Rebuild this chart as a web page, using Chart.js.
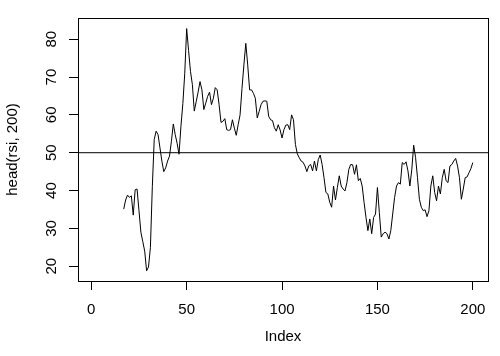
<!DOCTYPE html>
<html>
<head>
<meta charset="utf-8">
<script src="https://cdn.jsdelivr.net/npm/chart.js@4/dist/chart.umd.min.js"></script>
<style>
  html, body { margin: 0; padding: 0; background: #fff; }
  #wrap { width: 500px; height: 356px; position: relative; }
</style>
</head>
<body>
<div id="wrap"><canvas id="c" width="500" height="356"></canvas></div>
<script>
// ---- data ----
const firstIndex = 17;
const rsiValues = [
  35.1, 37.5, 38.8, 38.2, 38.6, 33.5, 40.2, 40.4, 34.7, 29,
  26.5, 24, 18.8, 19.8, 25, 41, 53.5, 55.7, 54.8, 51.3,
  47.8, 45, 46, 47.8, 49.1, 53, 57.6, 54.8, 52.5, 49.6,
  57, 63, 71, 82.8, 77, 71.5, 68, 61, 63.5, 66,
  68.8, 66.6, 61.4, 63.1, 64.9, 66, 62.7, 64.4, 67.2, 66.6,
  62.7, 58, 58.3, 59, 56.1, 55.9, 56.1, 58.7, 56.5, 54.6,
  57.4, 60, 67, 73.2, 78.9, 73.2, 66.6, 66.6, 65.7, 64.4,
  59.2, 60.9, 62.7, 63.6, 63.7, 63.6, 59.6, 58.7, 58.5, 56.6,
  55.7, 57.4, 56, 53.9, 56.1, 57.3, 57.4, 56.1, 60, 58.7,
  52.2, 49.7, 48.7, 47.8, 47.5, 46.5, 45, 46.5, 46.9, 45.2,
  47.8, 45.2, 48.2, 49.4, 46.9, 43.4, 39.5, 39.1, 36.9, 35.6,
  41.2, 37.5, 40.8, 43.9, 41.2, 40.4, 39.9, 42.1, 45.6, 46.9,
  46.8, 44.3, 46.8, 42.6, 43.2, 41.2, 36.9, 32.9, 29.4, 32.5,
  28.6, 32.9, 33.8, 40.8, 34.2, 27.7, 28.6, 29, 28.6, 27.2,
  29.4, 33.8, 38.2, 41.2, 42.1, 41.7, 47.4, 46.9, 47.6, 45.2,
  41.2, 45.5, 52, 48.7, 43.4, 37.7, 35.6, 34.7, 34.9, 33.1,
  34.7, 41.2, 43.9, 39.5, 37.3, 41.2, 39.1, 43.4, 45.6, 42.6,
  42.1, 46.5, 46.9, 47.8, 48.5, 46.5, 43.4, 37.7, 40.4, 43.4,
  43.6, 44.7, 45.8, 47.4
];
const xTickValues = [0, 50, 100, 150, 200];
const yTickValues = [20, 30, 40, 50, 60, 70, 80];
const refLevel = 50;
const xLabel = 'Index';
const yLabel = 'head(rsi, 200)';

// ---- axis limits (R-style 4% extension) ----
const xMin = -6.96, xMax = 207.96;
const yMin = 16.1, yMax = 85.6;

const linePoints = rsiValues.map((v, k) => ({ x: firstIndex + k, y: v }));
const refPoints = [{ x: xMin, y: refLevel }, { x: xMax, y: refLevel }];

const FONT = 'Liberation Sans, Arial, sans-serif';

const boxPlugin = {
  id: 'box',
  afterDraw(chart) {
    const a = chart.chartArea, ctx = chart.ctx;
    ctx.save();
    ctx.strokeStyle = '#000';
    ctx.lineWidth = 1;
    ctx.strokeRect(Math.round(a.left) + 0.5, Math.round(a.top) + 0.5,
                   Math.round(a.right - a.left), Math.round(a.bottom - a.top));
    ctx.restore();
  }
};

new Chart(document.getElementById('c'), {
  type: 'line',
  data: {
    datasets: [
      { data: linePoints, borderColor: '#000', borderWidth: 1, pointRadius: 0, tension: 0, fill: false },
      { data: refPoints, borderColor: '#000', borderWidth: 1, pointRadius: 0, tension: 0, fill: false }
    ]
  },
  options: {
    responsive: false,
    animation: false,
    events: [],
    layout: { padding: { top: 16, right: 12, left: 0, bottom: 0 } },
    plugins: { legend: { display: false }, tooltip: { enabled: false } },
    scales: {
      x: {
        type: 'linear',
        min: xMin, max: xMax,
        afterBuildTicks(scale) { scale.ticks = xTickValues.map(v => ({ value: v })); },
        afterFit(scale) { scale.height = 75; },
        grid: { display: true, drawOnChartArea: false, drawTicks: true, tickLength: 9, color: '#000', lineWidth: 1 },
        border: { display: false },
        ticks: { color: '#000', font: { family: FONT, size: 15 }, padding: 11, maxRotation: 0, autoSkip: false, includeBounds: false },
        title: { display: true, text: xLabel, color: '#000', font: { family: FONT, size: 15 }, padding: { top: 0, bottom: 10 } }
      },
      y: {
        type: 'linear',
        min: yMin, max: yMax,
        afterBuildTicks(scale) { scale.ticks = yTickValues.map(v => ({ value: v })); },
        afterFit(scale) { scale.width = 78; },
        grid: { display: true, drawOnChartArea: false, drawTicks: true, tickLength: 9, color: '#000', lineWidth: 1 },
        border: { display: false },
        ticks: { color: '#000', font: { family: FONT, size: 15 }, padding: 9, minRotation: 90, maxRotation: 90, crossAlign: 'center', autoSkip: false, includeBounds: false },
        title: { display: true, text: yLabel, color: '#000', font: { family: FONT, size: 15 }, padding: { top: 4, bottom: 0 } }
      }
    }
  },
  plugins: [boxPlugin]
});
</script>
</body>
</html>
